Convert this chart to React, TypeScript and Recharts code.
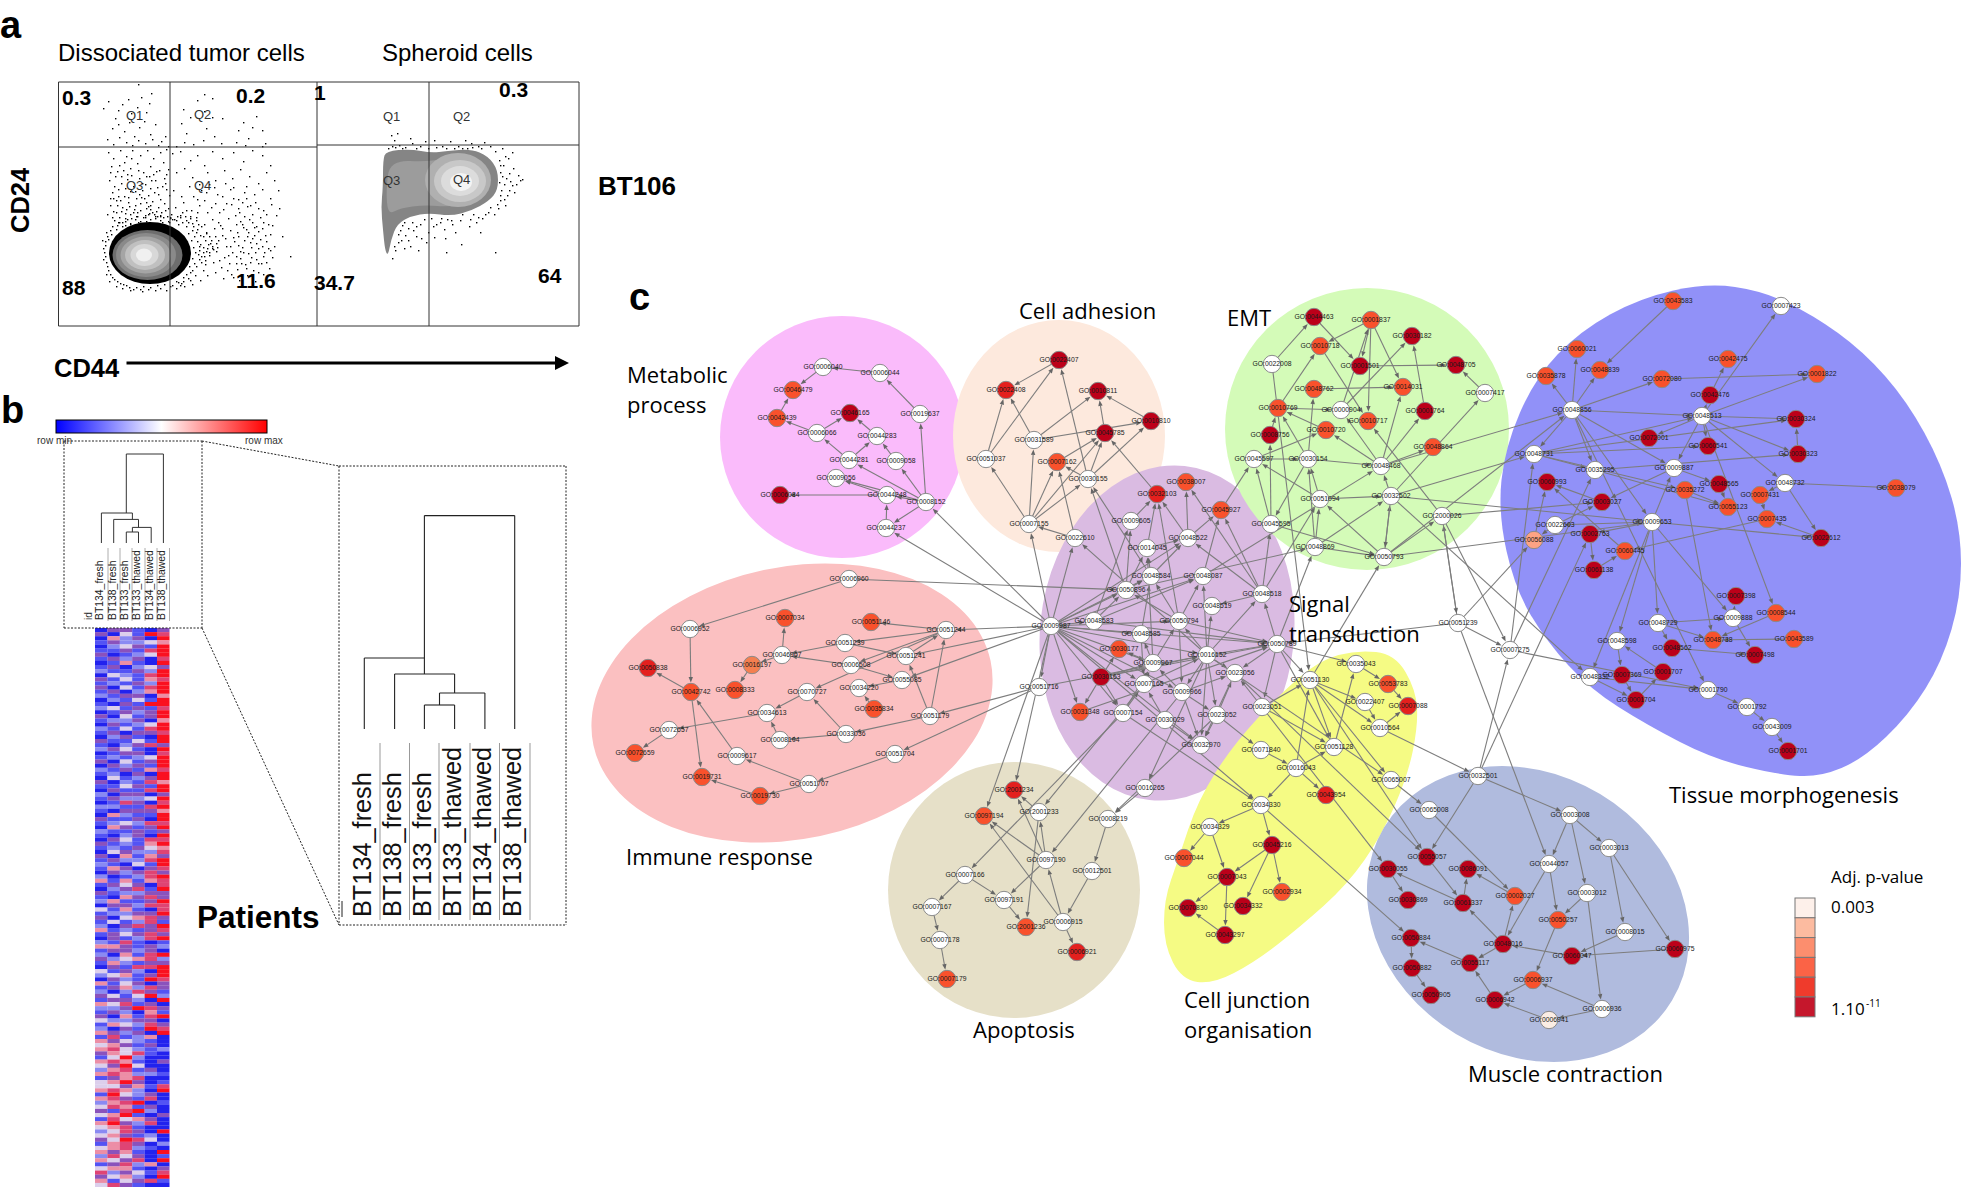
import React from "react";
import { ScatterChart, Scatter, XAxis, YAxis } from "recharts";

const W = 1961, H = 1187;
const SANS = "'Liberation Sans', Arial, sans-serif";
const HUM = "'Open Sans', 'Noto Sans', sans-serif";

// ---- panel c: nodes [key, label, x, y, level]
type N = [string, string, number, number, number];
const metabolicNodes: N[] = [
  ["m1","GO:0006040",823,367,0],["m2","GO:0006044",880,373,0],["m3","GO:0046479",793,390,3],["m4","GO:0042439",777,418,3],
  ["m5","GO:0046165",850,413,5],["m6","GO:0019637",920,414,0],["m7","GO:0006066",817,433,0],["m8","GO:0044283",877,436,0],
  ["m9","GO:0044281",849,460,0],["m10","GO:0009058",896,461,0],["m11","GO:0009056",836,478,0],["m12","GO:0006084",780,495,5],
  ["m13","GO:0044248",887,495,0],["m14","GO:0008152",926,502,0],["m15","GO:0044237",886,528,0],
];
const adhesionNodes: N[] = [
  ["c1","GO:0022407",1059,360,5],["c2","GO:0022408",1006,390,4],["c3","GO:0010811",1098,391,5],["c4","GO:0010810",1151,421,5],
  ["c5","GO:0045785",1105,433,5],["c6","GO:0031589",1034,440,0],["c7","GO:0007162",1057,462,3],["c8","GO:0030155",1088,479,0],
  ["c9","GO:0007155",1029,524,0],["c10","GO:0022610",1075,538,0],["c11","GO:0051037",986,459,0],
];
const emtNodes: N[] = [
  ["e1","GO:0044463",1314,317,5],["e2","GO:0001837",1371,320,3],["e3","GO:0030182",1412,336,5],["e4","GO:0010718",1320,346,3],
  ["e5","GO:0022008",1272,364,0],["e6","GO:0001501",1360,366,5],["e7","GO:0048705",1456,365,5],["e8","GO:0048762",1314,389,3],
  ["e9","GO:0014031",1403,387,3],["e10","GO:0010769",1278,408,3],["e11","GO:0000904",1341,410,0],["e12","GO:0001764",1425,411,5],
  ["e13","GO:0010717",1368,421,3],["e14","GO:0010720",1326,430,3],["e15","GO:0008756",1270,435,5],["e16","GO:0048864",1433,447,3],
  ["e17","GO:0045597",1254,459,0],["e18","GO:0030154",1308,459,0],["e19","GO:0048468",1381,466,0],["e20","GO:0051094",1320,499,0],
  ["e21","GO:0032502",1391,496,0],["e22","GO:2000026",1442,516,0],["e23","GO:0045595",1271,524,0],["e24","GO:0048869",1315,547,0],
  ["e25","GO:0050793",1384,557,0],["e26","GO:0007417",1485,393,0],
];
const signalNodes: N[] = [
  ["s1","GO:0032103",1157,494,4],["s2","GO:0038007",1186,482,3],["s3","GO:0045927",1221,510,3],["s4","GO:0009605",1131,521,0],
  ["s5","GO:0048522",1188,538,0],["s6","GO:0014045",1147,548,0],["s7","GO:0048584",1151,576,0],["s8","GO:0048087",1203,576,0],
  ["s9","GO:0050896",1126,590,0],["s10","GO:0048518",1262,594,0],["s11","GO:0048519",1212,606,0],["s12","GO:0009987",1051,626,0],
  ["s13","GO:0048583",1094,621,0],["s14","GO:0050794",1179,621,0],["s15","GO:0048585",1141,634,0],["s16","GO:0050789",1277,644,0],
  ["s17","GO:0030177",1119,649,3],["s18","GO:0016152",1207,655,0],["s19","GO:0009967",1153,663,0],["s20","GO:0023056",1235,673,0],
  ["s21","GO:0030163",1101,677,5],["s22","GO:0007165",1144,684,0],["s23","GO:0051716",1039,687,0],["s24","GO:0009966",1182,692,0],
  ["s25","GO:0023051",1262,707,0],["s26","GO:0031348",1080,712,3],["s27","GO:0007154",1123,713,0],["s28","GO:0023052",1217,715,0],
  ["s29","GO:0030029",1165,720,0],["s30","GO:0032970",1201,745,0],["s31","GO:0016265",1145,788,0],["x1","GO:0051239",1458,623,0],
];
const junctionNodes: N[] = [
  ["j1","GO:0035043",1356,664,0],["j2","GO:0053783",1388,684,3],["j3","GO:0051130",1310,680,0],["j4","GO:0022407",1365,702,0],
  ["j5","GO:0007088",1408,706,4],["j6","GO:0010564",1380,728,0],["j7","GO:0071840",1261,750,0],["j8","GO:0051128",1334,747,0],
  ["j9","GO:0016043",1296,768,0],["j10","GO:0065007",1391,780,0],["j11","GO:0043954",1326,795,4],["j12","GO:0034330",1261,805,0],
  ["j13","GO:0034329",1210,827,0],["j14","GO:0045216",1272,845,5],["j15","GO:0007044",1184,858,3],["j16","GO:0007043",1227,877,5],
  ["j17","GO:0002934",1282,892,3],["j18","GO:0034332",1243,906,5],["j19","GO:0070830",1188,908,5],["j20","GO:0043297",1225,935,5],
];
const apoptosisNodes: N[] = [
  ["a1","GO:2001234",1014,790,4],["a2","GO:0097194",984,816,3],["a3","GO:2001233",1039,812,0],["a4","GO:0008219",1108,819,0],
  ["a5","GO:0097190",1046,860,0],["a6","GO:0012501",1092,871,0],["a7","GO:0007166",965,875,0],["a8","GO:0097191",1004,900,0],
  ["a9","GO:0007167",932,907,0],["a10","GO:0006915",1063,922,0],["a11","GO:2001236",1026,927,3],["a12","GO:0007178",940,940,0],
  ["a13","GO:0006921",1077,952,4],["a14","GO:0007179",947,979,3],
];
const immuneNodes: N[] = [
  ["i1","GO:0006960",849,579,0],["i2","GO:0006952",690,629,0],["i3","GO:0007034",785,618,3],["i4","GO:0051146",871,622,3],
  ["i5","GO:0051244",946,630,0],["i6","GO:0051239",845,643,0],["i7","GO:0046907",782,655,0],["i8","GO:0051241",906,656,0],
  ["i9","GO:0016197",752,665,2],["i10","GO:0050838",648,668,4],["i11","GO:0006508",851,665,0],["i12","GO:0055085",902,680,0],
  ["i13","GO:0042742",691,692,3],["i14","GO:0008333",735,690,3],["i15","GO:0034220",859,688,0],["i16","GO:0070727",807,692,0],
  ["i17","GO:0035834",874,709,3],["i18","GO:0034613",767,713,0],["i19","GO:0051179",930,716,0],["i20","GO:0072657",669,730,0],
  ["i21","GO:0008104",780,740,0],["i22","GO:0033036",846,734,0],["i23","GO:0072659",635,753,3],["i24","GO:0009617",737,756,0],
  ["i25","GO:0051704",895,754,0],["i26","GO:0019731",702,777,3],["i27","GO:0051707",809,784,0],["i28","GO:0019730",760,796,3],
];
const tissueNodes: N[] = [
  ["t1","GO:0043583",1673,301,3],["t2","GO:0007423",1781,306,0],["t3","GO:0060021",1577,349,3],["t4","GO:0048839",1600,370,3],
  ["t5","GO:0042475",1728,359,3],["t6","GO:0035878",1546,376,3],["t7","GO:0072080",1662,379,3],["t8","GO:0001822",1817,374,3],
  ["t9","GO:0042476",1710,395,5],["t10","GO:0048856",1572,410,0],["t11","GO:0048513",1702,416,0],["t12","GO:0030324",1796,419,5],
  ["t13","GO:0072001",1649,438,5],["t14","GO:0060541",1708,446,5],["t15","GO:0048731",1534,454,0],["t16","GO:0030323",1798,454,5],
  ["t17","GO:0035295",1595,470,0],["t18","GO:0009887",1674,468,0],["t19","GO:0060993",1547,482,5],["t20","GO:0048565",1719,484,5],
  ["t21","GO:0048732",1785,483,0],["t22","GO:0035272",1685,490,3],["t23","GO:0007431",1760,495,3],["t24","GO:0038079",1896,488,3],
  ["t25","GO:0003027",1602,502,5],["t26","GO:0055123",1728,507,3],["t27","GO:0007435",1767,519,3],["t28","GO:0009653",1652,522,0],
  ["t29","GO:0022603",1555,525,0],["t30","GO:0002763",1590,534,5],["t31","GO:0056088",1534,540,1],["t32","GO:0022612",1821,538,5],
  ["t33","GO:0060445",1625,551,3],["t34","GO:0061138",1594,570,5],["t35","GO:0007398",1736,596,5],["t36","GO:0009888",1733,618,0],
  ["t37","GO:0008544",1776,613,3],["t38","GO:0048729",1658,623,0],["t39","GO:0048738",1713,640,3],["t40","GO:0043589",1794,639,3],
  ["t41","GO:0048598",1617,641,0],["t42","GO:0048562",1672,648,5],["t43","GO:0007498",1755,655,5],["t44","GO:0001707",1663,672,5],
  ["t45","GO:0007369",1622,675,5],["t46","GO:0048332",1590,677,0],["t47","GO:0001704",1636,700,5],["t48","GO:0001790",1708,690,0],
  ["t49","GO:0001792",1747,707,0],["t50","GO:0043009",1772,727,0],["t51","GO:0001701",1788,751,5],["t52","GO:0007275",1510,650,0],
];
const muscleNodes: N[] = [
  ["u1","GO:0032501",1478,776,0],["u3","GO:0065008",1429,810,0],["u4","GO:0003008",1570,815,0],["u5","GO:0003013",1609,848,0],
  ["u6","GO:0055057",1427,857,5],["u7","GO:0044057",1549,864,0],["u8","GO:0030055",1388,869,5],["u9","GO:0086091",1468,869,5],
  ["u10","GO:0003012",1587,893,0],["u11","GO:0002027",1515,896,3],["u12","GO:0030869",1408,900,5],["u13","GO:0061337",1463,903,5],
  ["u14","GO:0050257",1558,920,3],["u15","GO:0008015",1625,932,0],["u16","GO:0050884",1411,938,5],["u17","GO:0048016",1503,944,5],
  ["u18","GO:0060047",1572,956,5],["u19","GO:0060975",1675,949,5],["u20","GO:0055117",1470,963,5],["u21","GO:0050882",1412,968,5],
  ["u22","GO:0006937",1533,980,3],["u23","GO:0050905",1431,995,5],["u24","GO:0006942",1495,1000,5],["u25","GO:0006936",1602,1009,0],
  ["u26","GO:0006941",1549,1020,0.5],
];
const allNodes: N[] = [...metabolicNodes,...adhesionNodes,...emtNodes,...signalNodes,...junctionNodes,...apoptosisNodes,...immuneNodes,...tissueNodes,...muscleNodes];
const levelColors: Record<string,string> = {"0":"#FFFFFF","0.5":"#FBEDE4","1":"#FDA384","2":"#F47F50","3":"#F9512C","4":"#E4201E","5":"#BC0019"};

// ---- panel c: edges "from to"
const metabolicEdges = "m1 m3,m2 m1,m6 m2,m7 m4,m4 m3,m7 m5,m8 m5,m9 m7,m9 m8,m10 m8,m14 m10,m14 m9,m14 m6,m14 m13,m13 m11,m14 m11,m13 m12,m15 m13,m14 m15,s12 m14,s12 m15";
const adhesionEdges = "c1 c2,c11 c2,c11 c1,c6 c2,c6 c3,c8 c1,c5 c3,c6 c4,c4 c3,c8 c7,c8 c5,c7 c5,c8 c4,c9 c6,c9 c7,c9 c8,c9 c5,c10 c9,c10 c7,c9 c11,s1 c5,s7 c8,s18 c10,s12 c9,s12 c10,s9 c8";
const emtEdges = "e5 e1,e1 e6,e2 e4,e2 e6,e2 e13,e2 e9,e11 e2,e11 e3,e12 e3,e10 e4,e4 e13,e6 e7,e8 e9,e10 e11,e14 e10,e18 e10,e18 e8,e19 e14,e19 e11,e19 e12,e19 e16,e19 e9,e17 e14,e23 e15,e18 e19,e17 e18,e18 e23,e23 e17,e20 e17,e20 e21,e21 e19,e24 e20,e24 e21,e25 e20,e25 e21,e21 e25,e25 e22,e23 e25,e24 e18,e22 e13,e26 e7,e21 e26,e15 e10,e20 e18,e24 e25,s10 e23,s3 e17,s10 e20,s16 e24,e5 j3,j3 e25,x1 e22,e19 t10,e25 t10,e21 t15,e21 t28,e22 t25,e25 t28,e22 t52,x1 t31,x1 s16,e21 t46,e22 x1,s9 e24,s8 e19";
const signalEdges = "s12 s23,s12 s26,s12 s27,s12 s22,s12 s24,s12 s30,s12 s18,s12 s16,s12 s13,s12 s14,s12 s8,s12 s7,s12 s5,s12 s9,s12 s19,s12 s15,s4 s1,s6 s1,s5 s1,s5 s2,s5 s3,s6 s5,s7 s6,s7 s5,s8 s3,s10 s3,s10 s5,s10 s2,s9 s4,s9 s6,s9 s7,s14 s1,s14 s8,s10 s11,s18 s11,s18 s10,s18 s14,s18 s8,s18 s16,s18 s20,s18 s28,s18 s24,s16 s10,s16 s20,s16 s25,s14 s7,s14 s9,s14 s24,s13 s4,s13 s9,s13 s16,s15 s7,s15 s22,s19 s15,s19 s17,s19 s14,s19 s6,s22 s19,s22 s18,s27 s22,s27 s19,s21 s17,s21 s19,s21 s26,s21 s27,s21 s18,s24 s19,s24 s28,s24 s20,s25 s20,s28 s20,s29 s22,s29 s30,s18 s30,s18 s31,s20 s30,s24 s30,s28 s30,s13 s8,i1 s9,s21 s16,s23 s18,s26 s16,s14 s16";
const junctionEdges = "j1 j2,j2 j5,j6 j5,j4 j6,j3 j4,j3 j6,j3 j8,j8 j1,j9 j3,j9 j8,j9 j11,j9 j12,j7 j9,j3 j10,j12 j13,j12 j14,j13 j15,j13 j16,j14 j16,j14 j17,j14 j18,j16 j19,j16 j20,j20 j19,s28 j7,j10 u3,j6 u1,s16 j1,s16 j3,s25 j3,s16 j8,s25 j8,s12 j12,s27 j12,j12 u16,s20 u6,s25 u8,j3 u6,s18 j10";
const apoptosisEdges = "a3 a1,a5 a3,a5 a2,a5 a1,a3 a11,a5 a8,a7 a8,a7 a9,a9 a12,a12 a14,a8 a11,a10 a5,a10 a2,a10 a13,a6 a10,a4 a6,s31 a4,s22 a3,s27 a7,s24 a5,s28 a4,s12 a1,s12 a2";
const immuneEdges = "i1 i2,i2 i13,i7 i3,i5 i4,i6 i7,i5 i6,i5 i11,i6 i8,i11 i7,i11 i12,i8 i5,s12 i8,s12 i12,s12 i5,i19 i5,i19 i8,i12 i15,i17 i15,i7 i9,i9 i14,i13 i10,i13 i26,i16 i18,i22 i16,i22 i21,i21 i18,i18 i20,i20 i23,i24 i13,i27 i24,i27 i28,i28 i26,i25 i27,s23 i25,s23 i19,i19 i22,i5 i16";
const tissueEdges = "t1 t4,t11 t2,t10 t3,t10 t4,t10 t6,t10 t7,t7 t8,t11 t8,t9 t5,t11 t9,t11 t12,t11 t16,t16 t12,t11 t13,t11 t14,t15 t12,t17 t16,t15 t14,t15 t11,t15 t17,t15 t22,t10 t11,t10 t15,t10 t17,t10 t18,t10 t28,t10 t48,t11 t18,t11 t21,t11 t37,t18 t20,t18 t25,t28 t18,t28 t38,t28 t36,t28 t41,t28 t46,t17 t26,t22 t26,t22 t39,t20 t26,t21 t23,t21 t24,t21 t32,t23 t27,t32 t27,t27 t33,t33 t19,t31 t19,t29 t31,t29 t25,t30 t34,t34 t33,t28 t30,t28 t29,t46 t47,t46 t48,t45 t47,t47 t44,t44 t41,t41 t45,t38 t36,t38 t42,t38 t39,t36 t35,t36 t43,t37 t39,t40 t39,t42 t43,t48 t49,t49 t50,t50 t51,t52 t15,t52 t17,t52 t48,u1 t52,u1 t30,x1 u7,x1 t52,t25 t19,t28 t32";
const muscleEdges = "u1 u6,u1 u4,u3 u11,u4 u5,u4 u7,u4 u10,u5 u15,u5 u19,u7 u14,u7 u17,u10 u14,u10 u25,u14 u22,u6 u13,u13 u9,u11 u9,u13 u8,u8 u12,u17 u13,u17 u11,u17 u20,u19 u18,u18 u17,u15 u18,u24 u20,u22 u24,u25 u22,u26 u24,u25 u26,u20 u16,u16 u21,u21 u23";
const allEdges = [metabolicEdges,adhesionEdges,emtEdges,signalEdges,junctionEdges,apoptosisEdges,immuneEdges,tissueEdges,muscleEdges].join(",").split(",");

// ---- panel c: background regions
const regionEllipses = [
  { name:"immune", x:792,y:703,rx:203,ry:136,rot:-12,fill:"#FBC0C1" },
  { name:"apoptosis", x:1014,y:890,rx:126,ry:128,rot:0,fill:"#E6E0C8" },
  { name:"metabolic", x:842,y:437,rx:122,ry:121,rot:0,fill:"#FABBFB" },
  { name:"adhesion", x:1059,y:436,rx:106,ry:116,rot:0,fill:"#FDE9DD" },
  { name:"signal", x:1167,y:633,rx:127,ry:168,rot:6,fill:"#DABBE2" },
  { name:"emt", x:1367,y:429,rx:142,ry:141,rot:0,fill:"#D4FBB8" },
];
const yellowOutline = [[1357,650],[1395,654],[1416,690],[1418,725],[1408,775],[1382,835],[1347,885],[1300,927],[1255,962],[1213,984],[1182,980],[1164,945],[1164,900],[1178,860],[1198,800],[1233,745],[1281,693],[1320,660]];
const muscleRegion = { x:1528,y:914,rx:168,ry:140,rot:31,fill:"#B0BBDE" };
const tissueOutline = [[1707,283],[1763,291],[1813,315],[1863,351],[1907,401],[1942,465],[1961,530],[1961,597],[1942,662],[1909,715],[1863,759],[1820,777],[1780,775],[1713,759],[1647,725],[1590,689],[1547,642],[1515,589],[1498,513],[1505,447],[1535,378],[1580,331],[1640,298]];

// ---- panel a: density contours
const blobLeft = [[147.5,255,35,25,"#6E6E6E"],[146,255,30,22,"#8A8A8A"],[145.5,255,25,18.5,"#A5A5A5"],[145,255,20,15,"#C0C0C0"],[144.5,255,14,11,"#D8D8D8"],[144,255,8,6.5,"#F0F0F0"]];
const spheroidOuter = [[386,151],[411,149],[431,153],[447,151],[471,149],[488,156],[498,170],[498,190],[489,201],[471,211],[451,216],[429,213],[411,216],[397,224],[391,240],[388,256],[385,250],[383,230],[381,207],[383,187],[383,160]];
const spheroidInner = [[390,160],[430,162],[460,155],[485,165],[492,185],[480,200],[450,207],[425,205],[400,208],[388,215],[386,190]];
const spheroidCore = [[458,180,33,27,"#B0B0B0"],[460,181,26,21,"#C8C8C8"],[460,181,19,15,"#DCDCDC"],[461,182,11,9,"#F4F4F4"]];
const haloEllipse = [150,253,41,31];

const dotsTop = [[103,108],[108,101],[115,118],[118,110],[122,104],[128,99],[131,113],[137,107],[141,97],[146,112],[149,103],[112,128],[118,124],[124,131],[129,122],[134,136],[139,127],[144,121],[150,134],[155,124],[161,141],[107,139],[113,144],[119,137],[126,142],[132,145],[138,140],[145,143],[152,139],[158,145],[165,136],[168,146],[176,146],[184,142],[183,109],[190,117],[197,100],[204,94],[212,98],[204,111],[212,117],[222,118],[181,123],[186,133],[193,144],[203,140],[206,128],[214,136],[221,143],[238,130],[243,122],[248,138],[252,127],[256,116],[262,130],[265,143],[245,145],[236,142],[262,146],[138,84],[151,93]];
const dotsMidLeft = [[108,152],[113,158],[120,150],[126,156],[132,150],[140,155],[147,150],[153,158],[160,152],[166,149],[111,166],[117,171],[124,162],[130,168],[137,163],[143,172],[150,166],[156,171],[163,162],[168,169],[109,180],[115,176],[121,183],[127,179],[133,186],[139,178],[145,184],[151,180],[157,187],[164,178],[112,192],[118,189],[124,196],[130,191],[136,198],[142,190],[148,195],[154,192],[160,199],[166,189],[110,205],[116,200],[122,207],[128,202],[134,209],[140,203],[146,208],[152,201],[158,207],[164,203],[107,214],[113,211],[119,217],[125,213],[131,218],[137,212],[143,217],[149,213],[155,218],[161,212],[167,216],[114,220],[122,222],[130,224],[138,222],[146,221],[154,223],[162,222],[170,218],[144,198],[146,202],[148,206],[150,209],[152,212],[154,214],[157,216],[139,194],[141,197],[135,205],[133,212],[129,206],[125,218],[121,211],[117,205],[113,198],[127,174],[123,170],[119,165],[131,158],[149,176],[153,174],[159,170],[165,183],[169,195],[168,208],[110,172],[114,186],[118,196],[121,176],[125,188],[128,197],[131,175],[135,191],[138,170],[142,183],[146,176],[150,188],[155,180],[158,194],[162,186],[166,174],[110,198],[116,212],[120,200],[126,209],[130,214],[136,216],[140,210],[145,215],[150,205],[156,211],[160,216],[165,210],[169,222],[112,217],[118,222],[125,225],[133,226],[141,225],[149,226],[157,225],[165,225]];
const dotsMidRight = [[172,153],[180,151],[190,160],[197,155],[204,165],[212,151],[222,158],[233,152],[243,161],[252,150],[262,155],[270,165],[176,172],[184,168],[192,177],[199,184],[207,172],[215,180],[224,170],[232,178],[240,169],[249,176],[258,183],[266,172],[274,180],[173,190],[181,196],[189,186],[197,199],[206,192],[214,187],[222,196],[230,189],[238,199],[246,186],[254,194],[262,189],[270,198],[278,190],[175,207],[183,202],[191,210],[199,205],[207,212],[215,203],[223,209],[231,204],[239,212],[247,206],[255,202],[263,210],[271,204],[279,208],[172,219],[180,215],[188,222],[196,217],[204,224],[212,219],[220,225],[228,218],[236,224],[244,216],[252,222],[260,217],[268,224],[276,215],[206,232],[214,228],[222,235],[230,230],[238,236],[246,229],[254,235],[262,228],[270,234],[210,243],[218,240],[226,246],[234,241],[242,247],[250,242],[258,248],[266,241],[274,246],[209,255],[216,251],[224,257],[232,252],[240,258],[248,253],[256,259],[264,252],[272,257],[205,264],[213,262],[221,267],[229,263],[237,269],[245,264],[253,270],[261,263],[269,268],[207,275],[215,272],[223,278],[231,274],[239,280],[247,275],[255,281],[263,274],[200,280],[192,284],[184,286],[178,282],[290,256],[282,236],[242,224],[248,232],[252,238],[256,243],[244,240],[240,251],[250,262],[236,256],[258,231],[262,246],[238,208],[252,214],[246,198],[244,192],[256,226],[266,214],[235,215],[240,221],[249,219],[254,227],[243,227],[237,232],[233,237],[247,236],[251,247],[243,252],[238,245],[255,252],[260,239],[265,235],[268,248],[263,256],[258,263],[251,257],[246,268],[241,263],[236,263],[230,246],[228,255],[225,238],[222,228],[218,222],[215,236],[212,248],[219,260],[227,270],[233,277],[258,272],[266,262],[270,250],[272,225],[263,222],[258,208],[250,205],[242,202],[233,198],[226,203],[219,212],[211,207],[204,200],[197,212],[190,218],[186,210],[193,196],[201,190],[209,184],[217,194],[225,183],[233,187]];
const dotsHalo = [[105,245],[104,252],[106,262],[108,270],[112,277],[117,281],[123,284],[129,287],[136,287],[143,286],[150,287],[157,285],[164,284],[170,286],[176,281],[183,277],[190,272],[196,266],[199,259],[203,252],[207,248],[212,246],[217,247],[205,240],[200,235],[197,229],[192,223],[186,220],[180,217],[174,219],[168,221],[160,220],[150,219],[140,221],[130,223],[122,226],[116,229],[111,234],[108,239],[201,262],[204,256],[209,252],[203,270],[195,275],[190,280],[116,286],[122,288],[130,290],[142,291],[155,290],[166,290],[176,288],[109,281],[106,274],[103,259],[102,240],[106,232],[112,226],[119,222],[127,219],[137,216],[148,214],[160,215],[171,214],[182,212],[190,216],[196,220],[201,226],[206,233],[211,240],[192,230],[194,236],[197,241],[199,246],[195,252],[198,254],[192,258],[194,263],[189,266],[192,270],[186,274],[188,278],[183,281],[180,285],[188,233],[191,240],[193,247],[186,226],[182,222],[178,224],[176,220],[200,244],[203,247],[206,251],[201,256],[205,260],[208,244],[213,249],[216,243],[199,250],[196,232],[209,236],[203,236],[198,224],[193,226],[185,216],[177,216],[170,217],[163,217],[155,216],[145,217],[135,219],[125,221],[117,225],[110,230],[107,236],[105,241],[103,248],[105,256],[107,266],[110,274],[114,279],[120,283],[126,285],[133,289],[140,289],[148,289],[160,288],[172,285],[181,283]];
const dotsSpheroid = [[391,135],[394,140],[397,133],[392,146],[399,145],[405,147],[412,143],[420,146],[428,148],[434,140],[442,146],[450,141],[458,146],[465,140],[471,143],[478,146],[484,142],[490,146],[410,138],[425,141],[467,148],[499,160],[503,165],[508,158],[513,168],[518,175],[500,172],[506,178],[512,185],[520,180],[501,190],[507,195],[514,192],[522,179],[500,200],[505,205],[498,208],[494,214],[488,212],[482,218],[476,222],[469,226],[460,220],[452,224],[444,229],[436,224],[428,232],[421,238],[413,230],[405,235],[398,242],[404,248],[395,250],[392,258],[410,246],[418,250],[426,242],[434,237],[445,238],[455,232],[461,244],[480,232],[495,252],[446,252],[402,225],[412,222],[420,224],[431,218],[441,218],[451,220],[462,214],[473,214],[502,148],[512,152],[505,156],[495,151],[500,165],[502,176],[504,184],[499,182],[509,173],[510,181],[516,184],[500,195],[504,199],[509,190],[497,204],[490,207],[485,214],[478,217],[470,219],[400,230],[404,222],[408,228],[416,226],[424,219],[433,226],[440,222],[447,219],[398,234],[394,246],[401,240],[408,240],[416,236],[388,148],[395,147],[402,148],[416,148],[436,147],[446,148],[454,148],[462,148],[472,147],[481,148]];

// ---- panel b: heat map rows, each column a colour class
const heatRows = [
"033103","304176","052307","132245","024317","113167","301247","132306","015107","130243","211327","042167","314156","121327",
"304167","130257","213305","021417","103177","241316","013237","304137","122305","031247","214167","130336","023107","311417",
"102363","234107","013306","121247","304137","032317","213156","120307","041237","302165","114317","031167","203303","132247",
"016306","221167","103335","052117","311307","124266","053137","211313","102307","034166","312157","121345",
"043226","305153","132267","210417","153036","032363","201267","515156","134306","023617","312233","105363","251137","033266",
"415106","122337","304563","141261","203637","512136","134363","031267","216101","553132","133230","205167","324562","152133",
"031667","413207","245137","032176","514303","135263","202631","341472","133207","546130","223763","132051","305167","422330",
"154263","203176","532307","161250",
"534210","453130","564212","354610","147200","565103","437400","256130","565221","135600","457301","443516","565207","174230",
"563160","256701","465130","316720","457103","164530","573260","456100","246307","453120","347640","156302","456210","535107",
"264301","543607","136250","455103","623416","345207","514361","463100",
];
const heatPalette = ["#2222EE","#5353F4","#8A8AF2","#8A52BC","#DCCFEC","#EC8EA6","#DF4474","#FA1020"];
const heatTop = 628, heatLeft = 95, heatCol = 12.4, heatRow = (H-heatTop)/heatRows.length;

// ---- panel b: dendrograms [merge outline as four corners]
const smallDendro = [[126.3,543,126.3,532,138.5,532,138.5,543],[132.4,532,132.4,527.4,151.2,527.4,151.2,543],[113.7,543,113.7,519.4,138.5,519.4,138.5,527.4],[101.4,543,101.4,513,132.4,513,132.4,519.4],[126.3,513,126.3,454,163.4,454,163.4,543]];
const bigDendro = [[424.4,729,424.4,705,454.6,705,454.6,729],[439.5,705,439.5,693,484.9,693,484.9,729],[394.6,729,394.6,674,454.6,674,454.6,693],[364.3,729,364.3,658,424.4,658,424.4,674],[424.4,658,424.4,515.6,514.7,515.6,514.7,729]];
const patientLabels = ["BT134_fresh","BT138_fresh","BT133_fresh","BT133_thawed","BT134_thawed","BT138_thawed"];
const smallLabelX = [103.3,115.6,127.8,140.4,152.7,165];
const bigLabelX = [370.5,400.7,430.5,460.8,491,521];
const smallRuleX = [108,120,132,145,157,169.5];
const bigRuleX = [380,409.5,439,470,499.5,530];
const legendColors = ["#FDF0EA","#FCBBA0","#FC8E6E","#FB6346","#EF3B2C","#C5172C"];

type T = { x:number;y:number;t:string;s:number;w?:number;f?:string;c?:string;r?:number };
const panelTexts: T[] = [
  {x:0,y:38,t:"a",s:38,w:700},{x:1,y:423,t:"b",s:38,w:700},{x:629,y:310,t:"c",s:38,w:700},
  {x:58,y:61,t:"Dissociated tumor cells",s:24},{x:382,y:61,t:"Spheroid cells",s:24},
  {x:62,y:105,t:"0.3",s:21,w:700},{x:236,y:103,t:"0.2",s:21,w:700},{x:314,y:100,t:"1",s:21,w:700},{x:499,y:97,t:"0.3",s:21,w:700},
  {x:62,y:295,t:"88",s:21,w:700},{x:236,y:288,t:"11.6",s:21,w:700},{x:314,y:290,t:"34.7",s:21,w:700},{x:538,y:283,t:"64",s:21,w:700},
  {x:126,y:120,t:"Q1",s:13,c:"#333"},{x:194,y:119,t:"Q2",s:13,c:"#333"},{x:126,y:190,t:"Q3",s:13,c:"#333"},{x:194,y:190,t:"Q4",s:13,c:"#333"},
  {x:383,y:121,t:"Q1",s:13,c:"#333"},{x:453,y:121,t:"Q2",s:13,c:"#333"},{x:383,y:185,t:"Q3",s:13,c:"#333"},{x:453,y:184,t:"Q4",s:13,c:"#333"},
  {x:29,y:233,t:"CD24",s:25.5,w:700,r:-90},{x:54,y:377,t:"CD44",s:25.5,w:700},{x:598,y:195,t:"BT106",s:26,w:700},
  {x:37,y:444,t:"row min",s:10,c:"#333"},{x:245,y:444,t:"row max",s:10,c:"#333"},{x:197,y:928,t:"Patients",s:31.5,w:700},
  {x:92,y:620,t:"id",s:10,c:"#333",r:-90},
  ...patientLabels.map((t,i)=>({x:smallLabelX[i],y:620,t,s:10.4,c:"#222",r:-90})),
  ...patientLabels.map((t,i)=>({x:bigLabelX[i],y:917,t,s:25.3,c:"#111",r:-90})),
  {x:627,y:383,t:"Metabolic",s:22,f:HUM},{x:627,y:413,t:"process",s:22,f:HUM},
  {x:1019,y:319,t:"Cell adhesion",s:22,f:HUM},{x:1227,y:326,t:"EMT",s:22,f:HUM},
  {x:1289,y:612,t:"Signal",s:22,f:HUM},{x:1289,y:642,t:"transduction",s:22,f:HUM},
  {x:626,y:865,t:"Immune response",s:22,f:HUM},{x:973,y:1038,t:"Apoptosis",s:22,f:HUM},
  {x:1184,y:1008,t:"Cell junction",s:22,f:HUM},{x:1184,y:1038,t:"organisation",s:22,f:HUM},
  {x:1468,y:1082,t:"Muscle contraction",s:22,f:HUM},{x:1669,y:803,t:"Tissue morphogenesis",s:22,f:HUM},
  {x:1831,y:883,t:"Adj. p-value",s:17,f:HUM},{x:1831,y:913,t:"0.003",s:17,f:HUM},{x:1831,y:1015,t:"1.10",s:17,f:HUM},{x:1866,y:1007,t:"-11",s:10,f:HUM},
];

const byKey: Record<string,N> = {};
allNodes.forEach(n => { byKey[n[0]] = n; });
const edgeData = allEdges.map(e => { const [a,b] = e.split(" "); const A = byKey[a], B = byKey[b]; return { x:A[2],y:A[3],tx:B[2],ty:B[3] }; });
const nodeData = allNodes.map(n => ({ label:n[1],x:n[2],y:n[3],fill:levelColors[String(n[4])] }));

type L = { x:number;y:number;tx:number;ty:number;c?:string;w?:number;d?:string };
const dendroSegs = (list:number[][], c:string, w:number):L[] => list.flatMap(p => [
  {x:p[0],y:p[1],tx:p[2],ty:p[3],c,w},{x:p[2],y:p[3],tx:p[4],ty:p[5],c,w},{x:p[4],y:p[5],tx:p[6],ty:p[7],c,w},
]);
const frameLines: L[] = [
  {x:58.5,y:82,tx:579,ty:82},{x:58.5,y:326,tx:579,ty:326},{x:58.5,y:82,tx:58.5,ty:326},{x:579,y:82,tx:579,ty:326},{x:317,y:82,tx:317,ty:326},
  {x:170,y:82,tx:170,ty:326},{x:429,y:82,tx:429,ty:326},{x:58.5,y:147,tx:317,ty:147},{x:317,y:145,tx:579,ty:145},
].map(l=>({...l,c:"#333",w:1}));
const insetLines: L[] = [
  {x:64,y:441,tx:202,ty:441},{x:64,y:441,tx:64,ty:628},{x:64,y:628,tx:202,ty:628},{x:202,y:441,tx:202,ty:628},
  {x:202,y:441,tx:339,ty:466},{x:202,y:628,tx:339,ty:925},
  {x:339,y:466,tx:566,ty:466},{x:339,y:466,tx:339,ty:925},{x:339,y:925,tx:566,ty:925},{x:566,y:466,tx:566,ty:925},
].map(l=>({...l,c:"#222",w:1,d:"2 1.5"}));
const ruleLines: L[] = [
  ...smallRuleX.map(x=>({x,y:548,tx:x,ty:621,c:"#999",w:0.8})),
  ...bigRuleX.map(x=>({x,y:743,tx:x,ty:920,c:"#999",w:1})),
  {x:342,y:901,tx:342,ty:917,c:"#222",w:1},
];
const axisArrow: L[] = [{x:126.5,y:363,tx:556,ty:363,c:"#000",w:3.2}];
const heatData = heatRows.flatMap((row,i)=>row.split("").map((ch,j)=>({x:heatLeft+j*heatCol,y:heatTop+i*heatRow,fill:heatPalette[Number(ch)]})));

const AX = { type:"number" as const, hide:true, allowDataOverflow:true };

const LineShape = (p:any) => {
  const q = p.payload;
  const dx = q.tx-q.x, dy = q.ty-q.y;
  return <line x1={p.cx} y1={p.cy} x2={p.cx+dx} y2={p.cy+dy} stroke={q.c} strokeWidth={q.w} strokeDasharray={q.d}/>;
};
const EdgeShape = (p:any) => {
  const q = p.payload;
  const dx = q.tx-q.x, dy = q.ty-q.y, len = Math.hypot(dx,dy)||1;
  const ux = dx/len, uy = dy/len;
  const ex = p.cx+dx-ux*9.5, ey = p.cy+dy-uy*9.5;
  const bx = ex-ux*5.5, by = ey-uy*5.5;
  return <g>
    <line x1={p.cx} y1={p.cy} x2={bx} y2={by} stroke="#7D7D7D" strokeWidth={1.1}/>
    <polygon points={`${ex},${ey} ${bx-uy*2.2},${by+ux*2.2} ${bx+uy*2.2},${by-ux*2.2}`} fill="#666"/>
  </g>;
};
const NodeShape = (p:any) => {
  const q = p.payload;
  return <g>
    <circle cx={p.cx} cy={p.cy} r={8.7} fill={q.fill} stroke="#8A8A8A" strokeWidth={1}/>
    <text x={p.cx} y={p.cy+2.3} textAnchor="middle" fontSize={6.8} fontFamily={SANS} fill="#1A1A1A">{q.label}</text>
  </g>;
};
const EllipseShape = (p:any) => {
  const q = p.payload;
  return <ellipse cx={p.cx} cy={p.cy} rx={q.rx} ry={q.ry} fill={q.fill} transform={q.rot?`rotate(${q.rot} ${p.cx} ${p.cy})`:undefined}/>;
};
const BlobShape = (p:any) => {
  const q = p.payload, pts:number[][] = q.pts;
  const ox = p.cx-q.x, oy = p.cy-q.y;
  const mid = (a:number[],b:number[]) => [(a[0]+b[0])/2+ox,(a[1]+b[1])/2+oy];
  const n = pts.length;
  const st = mid(pts[n-1],pts[0]);
  let d = `M${st[0]} ${st[1]}`;
  pts.forEach((c,i)=>{ const m = mid(c,pts[(i+1)%n]); d += `Q${c[0]+ox} ${c[1]+oy} ${m[0]} ${m[1]}`; });
  return <path d={d+"Z"} fill={q.fill}/>;
};
const DotShape = (p:any) => <rect x={p.cx} y={p.cy} width={1.4} height={1.4} fill="#000"/>;
const CellShape = (p:any) => <rect x={p.cx} y={p.cy} width={heatCol+0.1} height={heatRow+0.1} fill={p.payload.fill}/>;
const BoxShape = (p:any) => <rect x={p.cx} y={p.cy} width={p.payload.w} height={p.payload.h} fill={p.payload.fill} stroke={p.payload.s} strokeWidth={1}/>;
const BarShape = (p:any) => <g>
  <defs><linearGradient id="rowScale" x1="0" x2="1" y1="0" y2="0">
    <stop offset="0" stopColor="#0000FF"/><stop offset="0.5" stopColor="#FFFFFF"/><stop offset="1" stopColor="#FF0000"/>
  </linearGradient></defs>
  <rect x={p.cx} y={p.cy} width={p.payload.w} height={p.payload.h} fill="url(#rowScale)" stroke="#000" strokeWidth={1}/>
</g>;
const ArrowHead = (p:any) => <polygon points={`${p.cx},${p.cy-7} ${p.cx+14},${p.cy} ${p.cx},${p.cy+7}`} fill="#000"/>;
const TextShape = (p:any) => {
  const q:T = p.payload;
  return <text x={p.cx} y={p.cy} fontSize={q.s} fontWeight={q.w||400} fontFamily={q.f||SANS} fill={q.c||"#000"}
    transform={q.r?`rotate(${q.r} ${p.cx} ${p.cy})`:undefined}>{q.t}</text>;
};
const toE = (l:any[]) => l.map(e=>({x:e[0],y:e[1],rx:e[2],ry:e[3],fill:e[4]}));
const toD = (l:number[][]) => l.map(e=>({x:e[0],y:e[1]}));
const blob = (pts:number[][],fill:string) => [{x:pts[0][0],y:pts[0][1],pts,fill}];
const S = (key:string,data:any[],shape:any) => <Scatter key={key} data={data} shape={shape} isAnimationActive={false}/>;

export default function App() {
  return (
    <div style={{position:"absolute",left:0,top:0,width:W,height:H,background:"#fff",overflow:"hidden"}}>
      <ScatterChart width={W} height={H} margin={{top:0,right:0,bottom:0,left:0}}>
        <XAxis {...AX} dataKey="x" domain={[0,W]}/>
        <YAxis {...AX} dataKey="y" domain={[0,H]} reversed/>
        {regionEllipses.map(r=>S(r.name,[r],EllipseShape))}
        {S("yellow",blob(yellowOutline,"#F5FB84"),BlobShape)}
        {S("muscle",[muscleRegion],EllipseShape)}
        {S("tissue",blob(tissueOutline,"#9191F8"),BlobShape)}
        {S("edges",edgeData,EdgeShape)}
        {S("nodes",nodeData,NodeShape)}
        {S("dots1",toD(dotsTop),DotShape)}
        {S("dots2",toD(dotsMidLeft),DotShape)}
        {S("dots3",toD(dotsMidRight),DotShape)}
        {S("dots4",toD(dotsHalo),DotShape)}
        {S("dots5",toD(dotsSpheroid),DotShape)}
        {S("halo",[{x:haloEllipse[0],y:haloEllipse[1],rx:haloEllipse[2],ry:haloEllipse[3],fill:"#000"}],EllipseShape)}
        {S("blobL",toE(blobLeft),EllipseShape)}
        {S("sphO",blob(spheroidOuter,"#858585"),BlobShape)}
        {S("sphI",blob(spheroidInner,"#9C9C9C"),BlobShape)}
        {S("sphC",toE(spheroidCore),EllipseShape)}
        {S("frame",frameLines,LineShape)}
        {S("axisLine",axisArrow,LineShape)}
        {S("axisHead",[{x:555,y:363}],ArrowHead)}
        {S("bar",[{x:56,y:420,w:211,h:13}],BarShape)}
        {S("heat",heatData,CellShape)}
        {S("inset",insetLines,LineShape)}
        {S("rules",ruleLines,LineShape)}
        {S("dendroS",dendroSegs(smallDendro,"#333",1),LineShape)}
        {S("dendroB",dendroSegs(bigDendro,"#222",1.1),LineShape)}
        {S("legend",legendColors.map((fill,i)=>({x:1795,y:898+i*19.8,w:20,h:19.8,fill,s:"#777"})),BoxShape)}
        {S("text",panelTexts,TextShape)}
      </ScatterChart>
    </div>
  );
}
